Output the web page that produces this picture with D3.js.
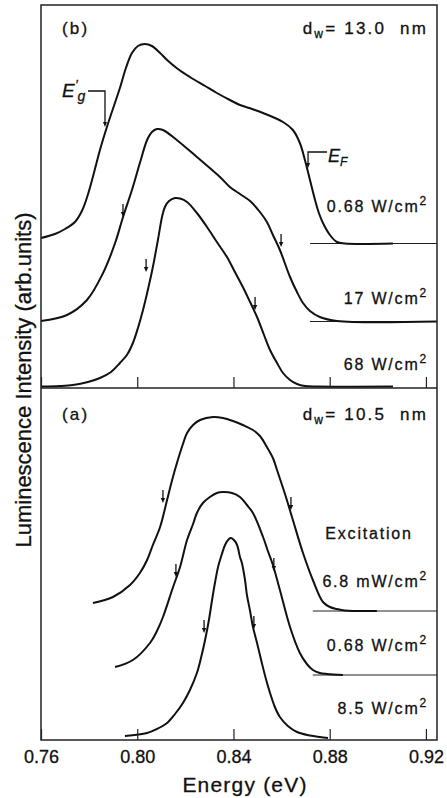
<!DOCTYPE html>
<html>
<head>
<meta charset="utf-8">
<script src="https://cdn.jsdelivr.net/npm/d3@7"></script>
<style>
  body { margin: 0; background: #fff; }
  text { font-family: "Liberation Sans", Arial, Helvetica, sans-serif; fill: #111; stroke: #111; stroke-width: 0.3px; }
</style>
</head>
<body>
<div id="chart"></div>
<script>
// energy axis (eV)
const energyTicks = [0.76, 0.80, 0.84, 0.88, 0.92];

// (b) d_w = 13.0 nm  -- [energy eV, intensity above the curve's own baseline, arb. units]
const b068 = [[0.7600,0.055],[0.7658,0.095],[0.7700,0.145],[0.7741,0.215],[0.7770,0.325],[0.7795,0.49],
  [0.7820,0.705],[0.7845,0.935],[0.7874,1.165],[0.7903,1.375],[0.7928,1.555],[0.7953,1.755],[0.7978,1.905],
  [0.8003,1.975],[0.8032,1.995],[0.8061,1.975],[0.8095,1.905],[0.8124,1.835],[0.8169,1.745],[0.8219,1.665],
  [0.8282,1.575],[0.8331,1.505],[0.8385,1.435],[0.8427,1.385],[0.8477,1.345],[0.8523,1.305],[0.8606,1.215],
  [0.8647,1.135],[0.8676,1.005],[0.8697,0.835],[0.8718,0.635],[0.8739,0.435],[0.8755,0.305],[0.8772,0.205],
  [0.8801,0.085],[0.8830,0.015],[0.8863,0],[0.9063,0]];
const b17 = [[0.7600,0.005],[0.7708,0.065],[0.7791,0.215],[0.7858,0.485],[0.7908,0.785],[0.7941,1.045],
  [0.7978,1.315],[0.8011,1.585],[0.8041,1.815],[0.8061,1.895],[0.8082,1.925],[0.8107,1.915],[0.8149,1.845],
  [0.8248,1.645],[0.8344,1.445],[0.8385,1.345],[0.8427,1.275],[0.8469,1.205],[0.8510,1.095],[0.8539,0.995],
  [0.8564,0.865],[0.8593,0.715],[0.8635,0.445],[0.8664,0.295],[0.8689,0.185],[0.8718,0.105],[0.8759,0.045],
  [0.8830,0.005],[0.9246,0]];
const b68 = [[0.7600,0],[0.7679,0.005],[0.7733,0.015],[0.7795,0.045],[0.7845,0.085],[0.7891,0.145],
  [0.7928,0.235],[0.7957,0.315],[0.7982,0.435],[0.8003,0.585],[0.8024,0.765],[0.8045,0.975],[0.8065,1.195],
  [0.8086,1.465],[0.8103,1.695],[0.8115,1.795],[0.8132,1.855],[0.8157,1.885],[0.8178,1.880],[0.8207,1.845],
  [0.8248,1.735],[0.8290,1.595],[0.8331,1.445],[0.8373,1.295],[0.8406,1.145],[0.8439,0.995],[0.8469,0.845],
  [0.8498,0.695],[0.8527,0.515],[0.8552,0.365],[0.8581,0.235],[0.8606,0.135],[0.8635,0.065],[0.8664,0.025],
  [0.8697,0.005],[0.8747,0],[0.9063,0]];
const bCurves = [b068, b17, b68];
const bPower = ["0.68 W/cm", "17 W/cm", "68 W/cm"];
const bOffset = [1.445, 0.665, 0.015];
const bRefStart = [0.8718, 0.8718, null];
const bArrows = [[], [[0.7945,1.045],[0.8602,0.745]], [[0.8041,1.145],[0.8494,0.765]]];
const bEgPrime = [0.7866, 1.165];   // marked on the 0.68 W/cm2 curve
const bFermi = [0.8710, 0.755];

// (a) d_w = 10.5 nm
const a68m = [[0.7816,0.08],[0.7899,0.14],[0.7970,0.26],[0.8011,0.38],[0.8041,0.51],[0.8065,0.66],
  [0.8095,0.84],[0.8124,1.11],[0.8144,1.30],[0.8165,1.48],[0.8190,1.67],[0.8207,1.78],[0.8232,1.86],
  [0.8261,1.91],[0.8315,1.94],[0.8356,1.93],[0.8398,1.90],[0.8439,1.86],[0.8481,1.81],[0.8510,1.75],
  [0.8539,1.64],[0.8564,1.53],[0.8581,1.41],[0.8606,1.23],[0.8622,1.11],[0.8647,0.91],[0.8689,0.58],
  [0.8730,0.31],[0.8772,0.09],[0.8801,0.04],[0.8830,0.02],[0.8863,0.005],[0.8996,0]];
const a068 = [[0.7908,0.08],[0.7982,0.15],[0.8053,0.32],[0.8082,0.44],[0.8107,0.58],[0.8149,0.88],
  [0.8178,1.08],[0.8207,1.35],[0.8232,1.51],[0.8248,1.62],[0.8273,1.72],[0.8302,1.78],[0.8331,1.82],
  [0.8356,1.83],[0.8394,1.82],[0.8427,1.78],[0.8456,1.70],[0.8481,1.62],[0.8523,1.38],[0.8543,1.24],
  [0.8564,1.10],[0.8593,0.85],[0.8635,0.48],[0.8676,0.22],[0.8705,0.11],[0.8730,0.05],[0.8759,0.02],
  [0.8789,0.01],[0.8855,0]];
const a85 = [[0.7949,0.03],[0.8041,0.06],[0.8082,0.10],[0.8124,0.16],[0.8157,0.25],[0.8190,0.36],
  [0.8219,0.49],[0.8248,0.66],[0.8265,0.81],[0.8282,0.99],[0.8298,1.19],[0.8311,1.39],[0.8323,1.56],
  [0.8336,1.72],[0.8352,1.85],[0.8365,1.94],[0.8381,2.00],[0.8390,2.01],[0.8402,1.99],[0.8415,1.94],
  [0.8427,1.82],[0.8435,1.76],[0.8448,1.59],[0.8456,1.44],[0.8469,1.28],[0.8481,1.12],[0.8498,0.96],
  [0.8518,0.76],[0.8535,0.60],[0.8552,0.46],[0.8572,0.32],[0.8593,0.22],[0.8626,0.13],[0.8664,0.07],
  [0.8718,0.035],[0.8759,0.02],[0.8793,0.01]];
const aCurves = [a68m, a068, a85];
const aPower = ["6.8 mW/cm", "0.68 W/cm", "8.5 W/cm"];
const aOffset = [1.29, 0.65, 0.01];
const aRefStart = [0.873, 0.873, null];
const aArrows = [[[0.8111,1.08],[0.8643,1.01]], [[0.8165,0.98],[0.8572,1.04]], [[0.8282,1.06],[0.8489,1.10]]];

const width = 447, height = 798;
const frameL = 41, frameR = 437, frameT = 5, frameM = 388, frameB = 740;

const svg = d3.select('#chart').append('svg')
  .attr('width', width).attr('height', height);

const x = d3.scaleLinear().domain([0.76, 0.9246]).range([frameL, frameR]);
const yB = d3.scaleLinear().domain([0, 3.83]).range([frameM, frameT]);
const yA = d3.scaleLinear().domain([0, 3.52]).range([frameB, frameM]);

function drawPanel(y, curves, offsets, refStart, arrows) {
  const g = svg.append('g');
  curves.forEach((data, i) => {
    const off = offsets[i];
    // thin reference baseline on the right
    if (refStart[i] !== null) {
      g.append('line')
        .attr('x1', x(refStart[i])).attr('x2', frameR)
        .attr('y1', y(off)).attr('y2', y(off))
        .attr('stroke', '#222').attr('stroke-width', 1);
    }
    const line = d3.line()
      .x(d => x(d[0]))
      .y(d => y(d[1] + off))
      .curve(d3.curveCatmullRom.alpha(0.5));
    g.append('path')
      .datum(data)
      .attr('d', line)
      .attr('fill', 'none')
      .attr('stroke', '#111')
      .attr('stroke-width', 2);
    // small down arrows
    arrows[i].forEach(a => {
      const tx = x(a[0]) - 1, ty = y(a[1] + off);
      g.append('line')
        .attr('x1', tx).attr('x2', tx)
        .attr('y1', ty - 13).attr('y2', ty - 3)
        .attr('stroke', '#111').attr('stroke-width', 1.3);
      g.append('path')
        .attr('d', `M${tx - 2.2},${ty - 5}L${tx + 2.2},${ty - 5}L${tx},${ty}Z`)
        .attr('fill', '#111');
    });
  });
  return g;
}

const gB = drawPanel(yB, bCurves, bOffset, bRefStart, bArrows);
const gA = drawPanel(yA, aCurves, aOffset, aRefStart, aArrows);

// axes: inward ticks on each panel's bottom edge
const axisB = svg.append('g')
  .attr('transform', `translate(0,${frameM})`)
  .call(d3.axisBottom(x).tickValues(energyTicks).tickSizeInner(-11).tickSizeOuter(0).tickFormat(''));
const axisA = svg.append('g')
  .attr('transform', `translate(0,${frameB})`)
  .call(d3.axisBottom(x).tickValues(energyTicks).tickSizeInner(-11).tickSizeOuter(0)
    .tickPadding(10).tickFormat(d3.format('.2f')));
[axisB, axisA].forEach(ax => {
  ax.select('.domain').remove();
  ax.selectAll('.tick line').attr('stroke', '#222').attr('stroke-width', 1.2);
});
axisA.attr('font-size', 18);
axisA.selectAll('.tick text').attr('fill', '#111');

// frame and divider
svg.append('rect')
  .attr('x', frameL).attr('y', frameT)
  .attr('width', frameR - frameL).attr('height', frameB - frameT)
  .attr('fill', 'none').attr('stroke', '#222').attr('stroke-width', 1.5);
svg.append('line')
  .attr('x1', frameL).attr('x2', frameR).attr('y1', frameM).attr('y2', frameM)
  .attr('stroke', '#222').attr('stroke-width', 1.5);

// labels
function powerLabel(g, txt, yy) {
  const t = g.append('text')
    .attr('x', 428).attr('y', yy)
    .attr('text-anchor', 'end')
    .attr('font-size', 16).attr('letter-spacing', 1.8);
  t.append('tspan').text(txt);
  t.append('tspan').attr('font-size', 12).attr('dy', -7).text('2');
}
[212, 304, 370].forEach((yy, i) => powerLabel(gB, bPower[i], yy));
[587, 651, 714].forEach((yy, i) => powerLabel(gA, aPower[i], yy));
gA.append('text').attr('x', 369).attr('y', 539).attr('text-anchor', 'middle')
  .attr('font-size', 16).attr('letter-spacing', 1.8).text('Excitation');

function panelTitle(tag, dw, yy) {
  svg.append('text').attr('x', 62).attr('y', yy)
    .attr('font-size', 17).attr('letter-spacing', 2.2).text(tag);
  const t = svg.append('text').attr('x', 428).attr('y', yy)
    .attr('text-anchor', 'end').attr('font-size', 17).attr('letter-spacing', 2.2);
  t.append('tspan').text('d');
  t.append('tspan').attr('font-size', 12).attr('dy', 4).text('w');
  t.append('tspan').attr('dy', -4).text('= ' + dw + '\u00a0 nm');
}
panelTitle('(b)', '13.0', 34);
panelTitle('(a)', '10.5', 420);

// E'g leader on the 0.68 W/cm2 curve of (b)
{
  const tx = x(bEgPrime[0]), ty = yB(bEgPrime[1] + bOffset[0]);
  gB.append('path')
    .attr('d', `M${tx - 17},${ty - 36}L${tx},${ty - 36}L${tx},${ty - 3}`)
    .attr('fill', 'none').attr('stroke', '#111').attr('stroke-width', 1.3);
  gB.append('path')
    .attr('d', `M${tx - 2},${ty - 5}L${tx + 2},${ty - 5}L${tx},${ty}Z`).attr('fill', '#111');
  const t = gB.append('text').attr('x', tx - 43).attr('y', ty - 30)
    .attr('font-size', 19).attr('font-style', 'italic');
  t.append('tspan').text('E');
  t.append('tspan').attr('font-size', 13).attr('dx', 0.5).attr('dy', -8).text('\u2032');
  t.append('tspan').attr('font-size', 14).attr('dx', 0).attr('dy', 12).text('g');
}
// E_F leader
{
  const tx = x(bFermi[0]), ty = yB(bFermi[1] + bOffset[0]);
  gB.append('path')
    .attr('d', `M${tx + 19},${ty - 16}L${tx},${ty - 16}L${tx},${ty - 3}`)
    .attr('fill', 'none').attr('stroke', '#111').attr('stroke-width', 1.3);
  gB.append('path')
    .attr('d', `M${tx - 2},${ty - 5}L${tx + 2},${ty - 5}L${tx},${ty}Z`).attr('fill', '#111');
  const t = gB.append('text').attr('x', tx + 20).attr('y', ty - 6)
    .attr('font-size', 18).attr('font-style', 'italic');
  t.append('tspan').text('E');
  t.append('tspan').attr('font-size', 12).attr('dy', 4).text('F');
}

// axis titles
svg.append('text')
  .attr('x', 245).attr('y', 792)
  .attr('text-anchor', 'middle')
  .attr('font-size', 21).attr('letter-spacing', 1.2)
  .text('Energy (eV)');
svg.append('text')
  .attr('transform', 'translate(31,380) rotate(-90)')
  .attr('text-anchor', 'middle')
  .attr('font-size', 22)
  .text('Luminescence Intensity (arb.units)');
</script>
</body>
</html>
